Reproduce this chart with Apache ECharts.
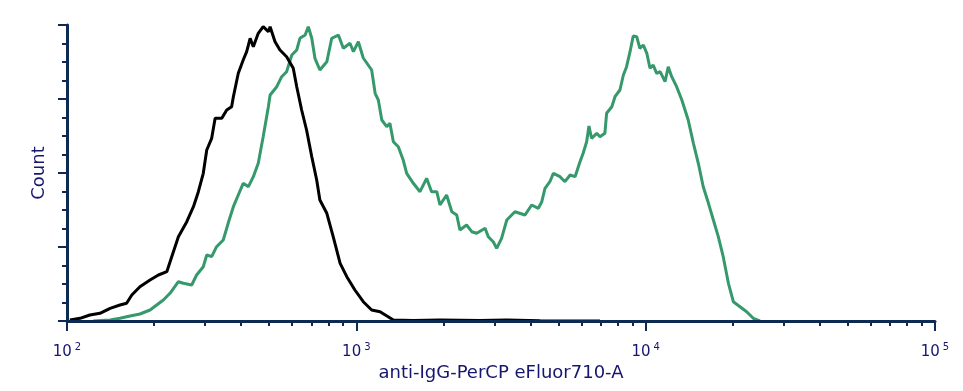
<!DOCTYPE html>
<html>
<head>
<meta charset="utf-8">
<script src="https://cdn.jsdelivr.net/npm/echarts@6/dist/echarts.min.js"></script>
<style>html,body{margin:0;padding:0;background:#fff}#c{width:963px;height:391px}</style>
</head>
<body>
<div id="c"></div>
<script>
// x values: log10 of fluorescence intensity (anti-IgG-PerCP eFluor710-A); y: event count
const xDecades = [2, 3, 4, 5];
const xTitle = 'anti-IgG-PerCP eFluor710-A';
const yTitle = 'Count';

const blackLogX = [2.010,2.045,2.079,2.114,2.149,2.183,2.206,2.224,2.252,2.287,2.316,2.345,2.362,2.385,2.414,2.437,2.454,2.471,2.483,2.500,2.512,2.535,2.552,2.569,2.575,2.592,2.609,2.621,2.633,2.644,2.661,2.678,2.696,2.702,2.719,2.736,2.759,2.782,2.794,2.811,2.828,2.846,2.863,2.874,2.898,2.920,2.944,2.967,2.995,3.024,3.053,3.082,3.128,3.196,3.289,3.427,3.520,3.635,3.842];
const blackCount = [1,2.7,6,7.7,12.7,16,17.7,26,34.3,41,46,49.3,64.3,84.3,99.3,114.3,129.3,147.7,171,182.7,202.7,202.7,211,214.3,224.3,247.7,261,269.3,282.7,274.3,287.7,294.3,289.3,294.3,279.3,271,264.3,252.7,234.3,211,191,164.3,141,121,107.7,84.3,57.7,44.3,31,19.3,11,9.3,1,0.5,1,0.5,1,0.3,0];

const greenLogX = [2.091,2.149,2.183,2.218,2.252,2.287,2.310,2.333,2.356,2.385,
2.402,2.431,2.448,2.471,2.483,2.500,2.517,2.540,2.557,2.575,
2.592,2.609,2.627,2.644,2.661,2.678,2.696,2.702,2.725,2.742,
2.759,2.777,2.794,2.805,2.823,2.834,2.846,2.857,2.874,2.898,
2.915,2.938,2.955,2.978,2.990,3.007,3.024,3.053,3.065,3.076,
3.088,3.105,3.116,3.128,3.145,3.162,3.174,3.197,3.220,3.243,
3.260,3.278,3.289,3.312,3.330,3.347,3.358,3.381,3.399,3.416,
3.445,3.456,3.473,3.485,3.502,3.520,3.548,3.583,3.606,3.629,
3.641,3.652,3.669,3.681,3.704,3.721,3.739,3.756,3.773,3.784,
3.796,3.804,3.813,3.831,3.842,3.859,3.865,3.883,3.894,3.911,
3.923,3.934,3.946,3.957,3.969,3.980,3.992,4.004,4.015,4.026,
4.038,4.050,4.067,4.078,4.090,4.107,4.125,4.147,4.165,4.182,
4.199,4.217,4.234,4.251,4.268,4.286,4.303,4.326,4.349,4.372,
4.395];
const greenCount = [0,1,2.7,5,7,11,16,21,27.7,39.3,
37.7,36,46,54.3,66,64.3,74.3,81,97.7,114.3,
126,137.7,134.3,144.3,157.7,184.3,214.3,226,234.3,244.3,
249.3,266,271,282.7,286,294.3,282.7,262.7,251,259.3,
282.7,286,272.7,277.7,269.3,279.3,263,251,227.7,221,
201,194.3,197.7,179.3,174.3,161,147.7,137.7,129.3,142.7,
129.3,129.3,116,126,109.3,106,91,96,89.3,87.7,
92.7,84.3,79.3,72.7,82.7,101,109.3,106,116,112.7,
119.3,132.7,139.3,147.7,144.3,139.3,146,144.3,159.3,167.7,
179.3,195,182.7,187.7,184.3,187.7,207.7,214.3,224.3,231,
246,254.3,269.3,285,284.3,272.7,276,267.7,252.7,256,
247.7,249.3,239.3,254.3,244.3,234.3,221,201,177.7,157.7,
134.3,117.7,101,84.3,64.3,37.7,19.3,14.3,9.3,2.7,
0];

const axisColor = '#0c2a52';
const textColor = '#16166e';
const fontFam = '"DejaVu Sans", Verdana, sans-serif';

const minorVals = [];
for (let d = xDecades[0]; d < xDecades[xDecades.length - 1]; d++) {
  for (let k = 2; k <= 9; k++) minorVals.push(d + Math.log10(k));
}

const chart = echarts.init(document.getElementById('c'), null, {renderer: 'canvas'});
chart.setOption({
  animation: false,
  backgroundColor: '#fff',
  grid: {left: 67, right: 28, top: 25, bottom: 70, containLabel: false},
  xAxis: [{
    type: 'value', min: 2, max: 5, interval: 1, z: 5,
    name: xTitle, nameLocation: 'middle', nameGap: 42,
    nameTextStyle: {color: textColor, fontSize: 18, fontFamily: fontFam},
    axisLine: {show: true, lineStyle: {color: axisColor, width: 3}},
    axisTick: {show: true, length: 10, lineStyle: {color: axisColor, width: 2}, customValues: xDecades},
    axisLabel: {
      show: true, margin: 21, customValues: xDecades,
      formatter: v => '{b|10}{s|' + Math.round(v) + '}',
      rich: {
        b: {fontSize: 15, color: textColor, fontFamily: fontFam},
        s: {fontSize: 10, color: textColor, fontFamily: fontFam, padding: [0, 0, 10, 3]}
      }
    },
    splitLine: {show: false}
  }, {
    type: 'value', min: 2, max: 5, position: 'bottom', z: 5,
    axisLine: {show: false},
    axisTick: {show: true, length: 5, lineStyle: {color: axisColor, width: 2}, customValues: minorVals},
    axisLabel: {show: false},
    splitLine: {show: false}
  }],
  yAxis: {
    type: 'value', min: 0, max: 296, interval: 74, z: 5,
    name: yTitle, nameLocation: 'middle', nameGap: 19,
    nameTextStyle: {color: textColor, fontSize: 18, fontFamily: fontFam},
    axisLine: {show: true, lineStyle: {color: axisColor, width: 3}},
    axisTick: {show: true, length: 9, lineStyle: {color: axisColor, width: 2}},
    minorTick: {show: true, splitNumber: 4, length: 5, lineStyle: {color: axisColor, width: 2}},
    axisLabel: {show: false},
    splitLine: {show: false}
  },
  series: [{
    type: 'line', name: 'sample', xAxisIndex: 0, showSymbol: false, symbol: 'none',
    lineStyle: {color: '#35996c', width: 3}, z: 2,
    data: greenLogX.map((x, i) => [x, greenCount[i]])
  }, {
    type: 'line', name: 'control', xAxisIndex: 0, showSymbol: false, symbol: 'none',
    lineStyle: {color: '#000000', width: 3}, z: 3,
    data: blackLogX.map((x, i) => [x, blackCount[i]])
  }]
});
</script>
</body>
</html>
